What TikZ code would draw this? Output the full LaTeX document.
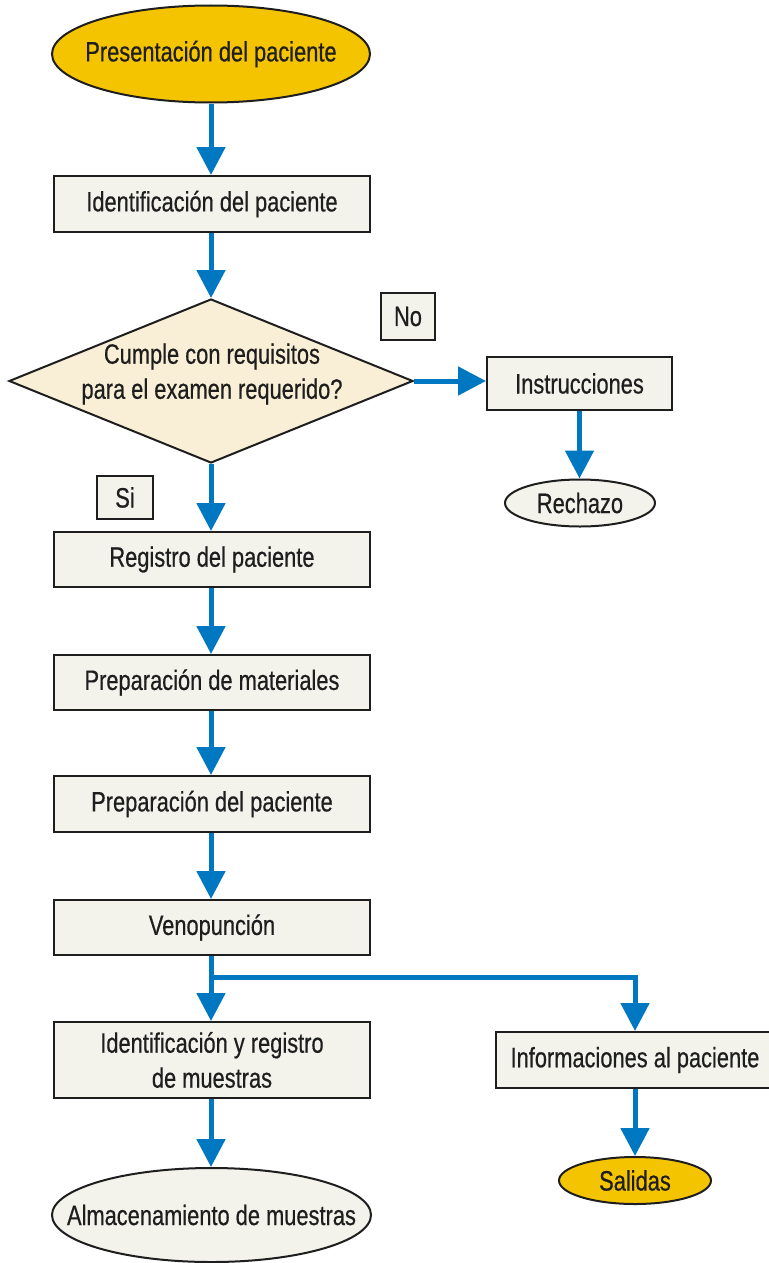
\documentclass[tikz,border=0pt]{standalone}
\usepackage{fontspec}
\setmainfont{Liberation Sans}[FakeStretch=0.78,FakeBold=0.5]
\usetikzlibrary{arrows.meta,shapes.geometric}
\definecolor{flowblue}{HTML}{0078C1}
\definecolor{gold}{HTML}{F5C400}
\definecolor{boxfill}{HTML}{F3F3EC}
\definecolor{diafill}{HTML}{F8EFD6}
\definecolor{edge}{HTML}{1E1E1E}
\tikzset{
  txt/.style={font=\fontsize{28}{35}\selectfont, text=edge, align=center},
  procbox/.style={txt, draw=edge, line width=2pt, fill=boxfill, rectangle, inner sep=0pt, minimum width=316pt, minimum height=56pt},
  tagbox/.style={txt, draw=edge, line width=2pt, fill=boxfill, rectangle, inner sep=0pt},
  termgold/.style={txt, draw=edge, line width=2pt, fill=gold, ellipse, inner xsep=-60pt, inner ysep=-20pt},
  termpale/.style={txt, draw=edge, line width=2pt, fill=boxfill, ellipse, inner xsep=-60pt, inner ysep=-20pt},
  decision/.style={draw=edge, line width=2pt, fill=diafill, diamond, inner sep=0pt, minimum width=404pt, minimum height=164pt},
  flow/.style={draw=flowblue, line width=5pt, -{Triangle[width=28pt,length=28pt]}}
}
\begin{document}
\begin{tikzpicture}[x=1pt,y=-1pt]
\useasboundingbox (0,0) rectangle (768,1263);
\fill[white] (0,0) rectangle (768,1263);

% nodes
\node[termgold, minimum width=318pt, minimum height=97pt] (pres) at (211,54) {Presentación del paciente};
\node[procbox] (ident) at (212,204) {Identificación del paciente};
\node[decision] (dia) at (211,381) {};
\node[txt] (diatext) at (212,374) {Cumple con requisitos\\para el examen requerido?};
\node[tagbox, minimum width=54pt, minimum height=47pt] (no) at (408,316.5) {No};
\node[procbox, minimum width=185pt, minimum height=53pt] (instr) at (579.5,383.5) {Instrucciones};
\node[termpale, minimum width=150pt, minimum height=47pt] (rechazo) at (580,503) {Rechazo};
\node[tagbox, minimum width=56pt, minimum height=43pt] (si) at (125,497.5) {Si};
\node[procbox, minimum height=55pt] (registro) at (212,559.5) {Registro del paciente};
\node[procbox, minimum height=55pt] (materiales) at (212,682.5) {Preparación de materiales};
\node[procbox] (prepac) at (212,804) {Preparación del paciente};
\node[procbox, minimum height=55pt] (veno) at (212,927.5) {Venopunción};
\node[procbox, minimum height=76pt] (idmuestras) at (212,1060) {Identificación y registro\\de muestras};
\node[procbox, minimum width=278pt] (info) at (635,1060) {Informaciones al paciente};
\node[termpale, minimum width=319pt, minimum height=94pt] (almacen) at (211.5,1215) {Almacenamiento de muestras};
\node[termgold, minimum width=152pt, minimum height=47pt] (salidas) at (635,1180.5) {Salidas};

\coordinate (split) at (211,977);

% connectors
\draw[flow] (pres.south) -- (pres.south |- ident.north);
\draw[flow] (ident.south -| dia.north) -- (dia.north);
\draw[flow] (dia.east) -- (dia.east -| instr.west);
\draw[flow] (instr.south) -- (instr.south |- rechazo.north);
\draw[flow] (dia.south) -- (dia.south |- registro.north);
\draw[flow] (registro.south -| dia.south) -- (dia.south |- materiales.north);
\draw[flow] (materiales.south -| dia.south) -- (dia.south |- prepac.north);
\draw[flow] (prepac.south -| dia.south) -- (dia.south |- veno.north);
\draw[flow] (veno.south -| dia.south) -- (dia.south |- idmuestras.north);
\draw[flow] (split) -| (info.north);
\draw[flow] (idmuestras.south -| dia.south) -- (dia.south |- almacen.north);
\draw[flow] (info.south) -- (info.south |- salidas.north);
\end{tikzpicture}
\end{document}
